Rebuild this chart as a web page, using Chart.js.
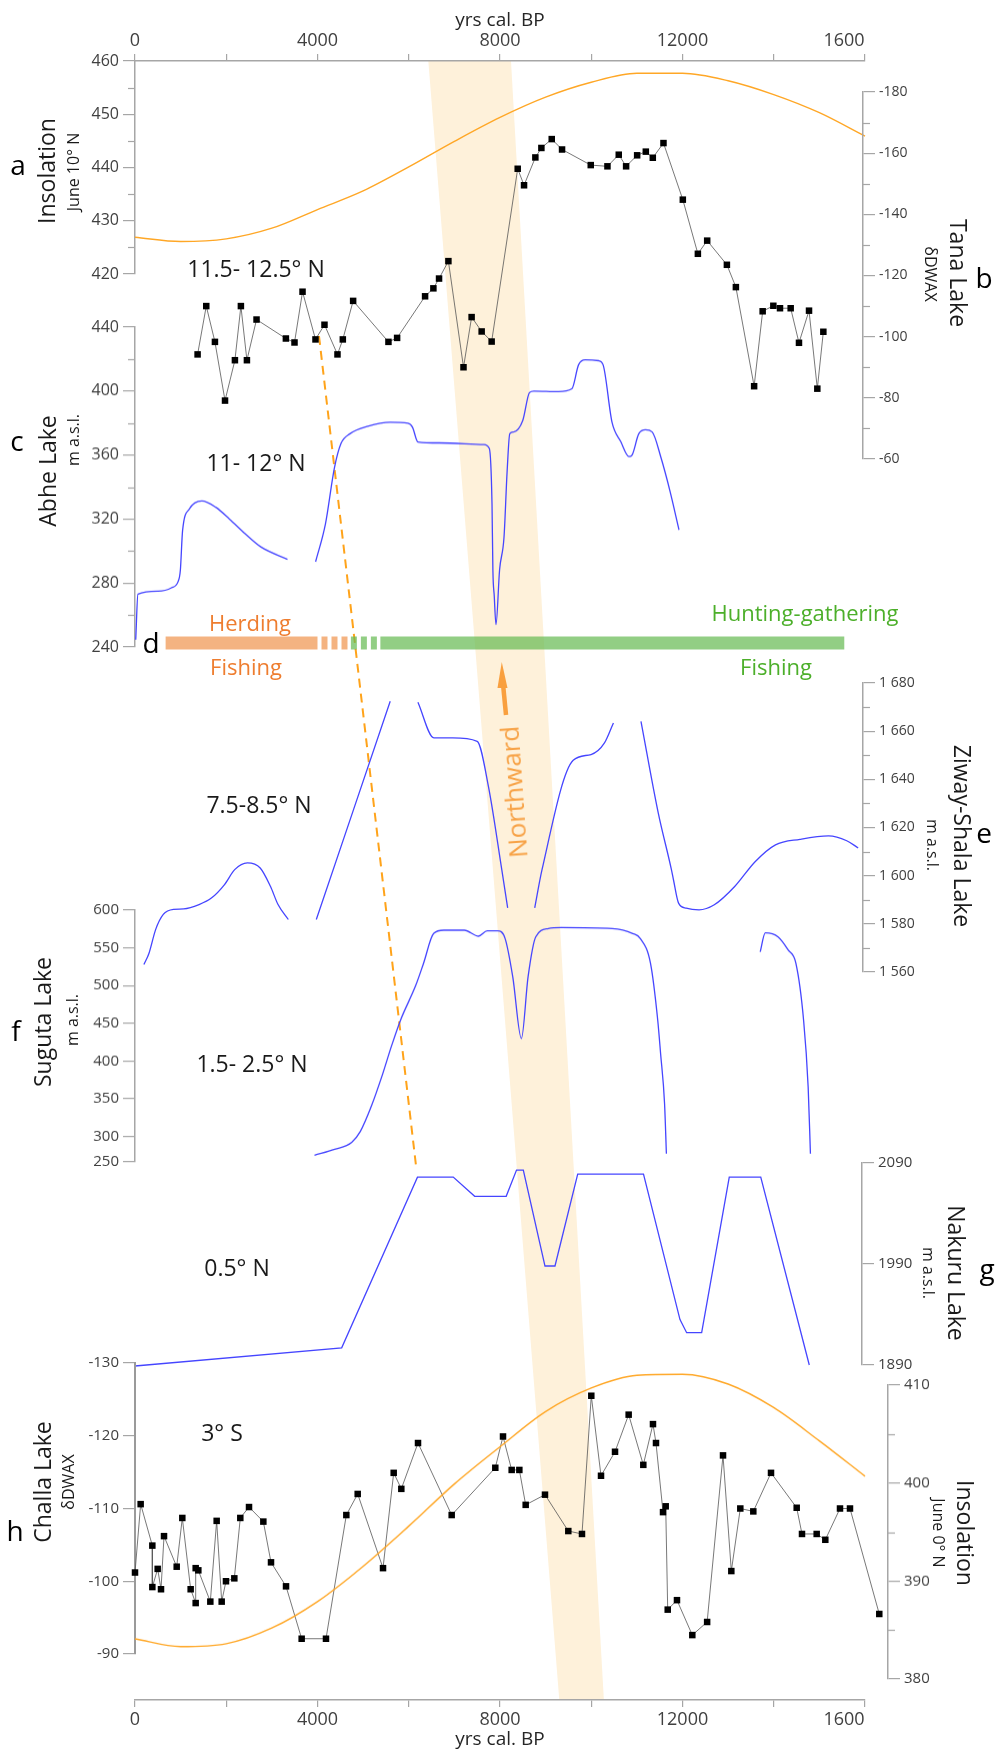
<!DOCTYPE html>
<html>
<head>
<meta charset="utf-8">
<script src="https://cdn.jsdelivr.net/npm/chart.js@4.4.1/dist/chart.umd.min.js"></script>
<style>
  body { margin: 0; background: #fff; }
  #fig { position: relative; width: 997px; height: 1764px; overflow: hidden; font-family: 'Open Sans', sans-serif; }
  #fig canvas { position: absolute; left: 0; }
  .t { position: absolute; white-space: nowrap; line-height: 1; }
</style>
</head>
<body>
<div id="fig"></div>
<script>
// ---------- data (ages in yrs cal. BP) ----------
const insolAge = [0,1000,2000,3000,4000,5000,6000,7000,8000,9000,10000,11000,12000,13000,14000,15000,16000];
const insol10N = [426.9,426.1,426.6,428.6,432.1,435.6,440.1,444.9,449.4,453.2,456.0,457.7,457.7,456.3,453.7,450.3,445.9];
const insol0N  = [384.1,383.3,383.6,385.2,387.9,391.5,395.6,399.9,403.7,407.3,409.7,411.0,411.1,410.1,407.7,404.3,400.7];

const tanaAge = [1372,1562,1752,1973,2190,2321,2453,2664,3307,3496,3672,3956,4153,4438,4555,4781,5555,5745,6358,6540,
  6664,6869,7200,7378,7598,7817,8388,8527,8775,8907,9134,9360,9989,10355,10603,10764,11006,11196,11349,11583,
  12007,12337,12541,12973,13170,13570,13757,13991,14137,14371,14553,14773,14955,15087];
const tanaDD = [-94.2,-110.0,-98.3,-79.1,-92.3,-110.0,-92.3,-105.6,-99.4,-98.1,-114.7,-99.1,-103.9,-94.2,-99.1,-111.7,-98.3,-99.6,-113.2,-115.8,
  -119.0,-124.7,-90.0,-106.4,-101.7,-98.4,-154.9,-149.5,-158.6,-161.7,-164.6,-161.2,-156.1,-155.7,-159.5,-155.7,-159.3,-160.5,-158.5,-163.3,
  -144.8,-127.1,-131.4,-123.5,-116.2,-83.8,-108.3,-110.1,-109.3,-109.3,-98.0,-108.5,-83.0,-101.6];

const abheAge = [16,64,505,799,946,994,1043,1190,1464,1777,2070,2413,2755,3342,3650,
  3958,4174,4370,4515,4712,5104,5593,5984,6082,6200,6669,7647,7766,7825,7844,7874,7912,7991,8088,8156,
  8214,8301,8498,8646,8744,9281,9575,9722,9868,10162,10260,10455,10650,10827,10895,11042,11189,11336,11532,11726,11923];
const abheLvl = [244.6,273,274.9,277,281,288,312.8,326.2,331.3,327.2,320,310.8,302.6,294.8,null,
  293.3,316.9,351.8,367.2,373.3,378,380.5,379.9,377.4,368.2,367.6,366.6,364.1,329.2,288.3,271.8,254,288.3,308.7,349.7,
  373.3,374.4,381.5,399,400,399.6,401.4,416.4,419.5,419,416.4,380.5,368.2,359,360,373.3,375.8,374.4,358,337.4,313.2];

const ziwayAge = [195,307,452,620,843,1067,1403,1681,1962,2185,2464,2744,2968,3135,3360,3700,
  3974,5594,5900,
  6201,6551,6963,7500,7746,8039,8168,8450,
  8761,8921,9604,9995,10290,10486,10800,
  11090,11467,11757,11803,11914,12081,12362,12697,13144,13591,14038,14575,15200,15600,15850];
const ziwayLvl = [1563.1,1567.8,1577.6,1583.9,1586,1586.2,1588,1590.8,1596.3,1602.5,1605.3,1603.2,1595.6,1588,1581.8,null,
  1581.8,1672.4,null,
  1672,1657.2,1657.2,1655.8,1637.1,1602.5,1586.6,null,
  1586.6,1602.5,1647.9,1650.3,1655.1,1663.4,null,
  1664.1,1626.2,1602.5,1598.2,1588.6,1586.5,1585.8,1587.9,1595.5,1605.8,1612.8,1615.1,1616.5,1614.5,1611.5];

const sugutaAge = [3934,4375,4750,4938,5188,5402,5628,5820,6155,6323,6546,6770,7217,7531,7720,7944,8112,8280,8469,8615,
  8783,9063,9342,10459,10908,11075,11299,11457,11520,11607,11647,12500,
  13703,13815,14095,14319,14486,14654,14754,14804];
const sugutaLvl = [274.8,282.7,292.1,306.5,341.2,377.9,420.8,454,500.4,529.2,569,573.4,573.4,565.4,572.5,572.5,562.3,511.4,429.7,511.4,
  564.5,575.6,576.9,575.6,569,562.3,529.2,454,409.7,343.3,277,null,
  544.6,569.8,564.5,546.9,529.2,454,365.6,277];
const sugutaTicks = [266,300,350,400,450,500,550,600];

const nakuruAge = [0,4530,6191,6975,7445,8136,8362,8511,8986,9205,9703,11145,11945,12091,12420,13025,13715,14779];
const nakuruLvl = [1889,1907,2076,2076,2057,2057,2083,2083,1988,1988,2079,2079,1935,1922,1922,2076,2076,1890];

const challaAge = [0,124,380,380,497,570,636,914,1037,1220,1330,1330,1388,1651,1790,1900,1994,2177,2308,2499,
  2813,2981,3310,3653,4186,4632,4881,5436,5670,5837,6203,6941,7897,8066,8256,8424,8563,8986,9497,9797,
  10001,10214,10521,10820,11141,11353,11419,11573,11632,11676,11879,12215,12540,12888,13070,13267,13552,13940,14503,14619,
  14941,15130,15452,15671,16313];
const challaDD = [-101.2,-110.6,-104.9,-99.2,-101.7,-98.9,-106.2,-102.0,-108.7,-98.9,-97.0,-101.8,-101.5,-97.2,-108.3,-97.2,-100.0,-100.4,-108.7,-110.2,
  -108.2,-102.6,-99.3,-92.1,-92.1,-109.1,-112.0,-101.8,-114.9,-112.7,-119.0,-109.1,-115.6,-119.9,-115.3,-115.3,-110.5,-111.9,-106.9,-106.5,
  -125.5,-114.5,-117.8,-122.9,-116.0,-121.6,-119.0,-109.5,-110.3,-96.1,-97.4,-92.6,-94.4,-117.3,-101.4,-110.0,-109.6,-114.9,-110.1,-106.5,
  -106.5,-105.7,-110.0,-110.0,-95.5];

// panel d: economy bars (start / end ages)
const herdingSolid = [671, 4000];
const herdingDash  = [4000, 4666];
const huntDash     = [4666, 5378];
const huntSolid    = [5378, 15546];

// ---------- layout ----------
const W = 997, H = 1764, X0 = 135, PX = 0.045625, AXW = 60;
const fig = document.getElementById('fig');
const GRAY = '#a6a6a6', BLUE = '#4545ff', ORANGE = '#ffa726';

Chart.defaults.font.family = "'Open Sans', sans-serif";
Chart.defaults.color = '#404040';
Chart.defaults.animation = false;
Chart.defaults.plugins.legend.display = false;
Chart.defaults.plugins.tooltip.enabled = false;

const minorTicks = {
  id: 'minor',
  afterDraw(chart, args, opts) {
    if (!opts.step) return;
    const s = chart.scales.y, ctx = chart.ctx;
    const left = s.position === 'left';
    const x0 = left ? s.right : s.left;
    ctx.save();
    ctx.strokeStyle = GRAY; ctx.lineWidth = 1.2;
    for (let v = s.min + opts.step; v < s.max; v += opts.step * 2) {
      const y = Math.round(s.getPixelForValue(v)) + 0.5;
      ctx.beginPath(); ctx.moveTo(x0, y); ctx.lineTo(x0 + (left ? -7 : 7), y); ctx.stroke();
    }
    ctx.restore();
  }
};
Chart.register(minorTicks);

function pts(xs, ys) { return xs.map((x, i) => ({x, y: ys[i]})); }

function makeCanvas(top, h) {
  const c = document.createElement('canvas');
  c.width = W; c.height = h;
  c.style.top = top + 'px'; c.style.width = W + 'px'; c.style.height = h + 'px';
  fig.appendChild(c);
  return c;
}

function xAxis(max, pos, h) {
  const show = !!pos;
  return {
    type: 'linear', min: 0, max, display: show, position: pos || 'bottom',
    afterFit: s => { if (h) s.height = h; },
    border: {display: true, color: GRAY, width: 1.5},
    grid: {drawOnChartArea: false, tickLength: 7, color: GRAY, lineWidth: 1.2},
    ticks: {stepSize: 2000, autoSkip: false, maxRotation: 0, padding: 2, font: {size: 18}, color: '#404040',
      callback: v => v % 4000 ? '' : (v === 16000 ? '1600' + ' '.repeat(9) : String(v))},
    title: {display: show, text: 'yrs cal. BP', font: {size: 19}, color: '#262626',
      padding: pos === 'top' ? {top: 9, bottom: 0} : {top: 0, bottom: 13}}
  };
}

function yAxis(y) {
  if (!y.position) return {type: 'linear', display: false, min: y.min, max: y.max, reverse: !!y.reverse};
  return {
    type: 'linear', position: y.position, min: y.min, max: y.max, reverse: !!y.reverse,
    afterFit: s => { s.width = AXW; },
    afterBuildTicks: s => { if (y.ticks) s.ticks = y.ticks.map(v => ({value: v})); },
    border: {display: true, color: y.line || GRAY, width: y.lw || 1.5},
    grid: {drawOnChartArea: false, tickLength: 12, color: GRAY, lineWidth: 1.2},
    ticks: {stepSize: y.step, autoSkip: false, padding: 4, font: {size: y.size}, color: '#404040',
      callback: y.fmt || (v => String(v))}
  };
}

// one chart per axis; top/bottom are the pixel rows of the axis max/min
function panel(o) {
  const m = 18;
  const right = o.right || 865;
  const cTop = o.xPos === 'top' ? 0 : o.top - m;
  const cBot = o.xPos === 'bottom' ? H : o.bottom + m;
  const cv = makeCanvas(cTop, cBot - cTop);
  const side = o.y.position;
  return new Chart(cv, {
    type: 'line',
    data: {datasets: o.datasets},
    options: {
      responsive: false,
      layout: {padding: {
        top: o.xPos === 'top' ? 0 : o.top - cTop,
        bottom: o.xPos === 'bottom' ? 0 : cBot - o.bottom,
        left: side === 'left' ? X0 - AXW : X0,
        right: side === 'right' ? W - right - AXW : W - right
      }},
      scales: {
        x: xAxis((right - X0) / PX, o.xPos, o.xPos === 'top' ? o.top : (o.xPos === 'bottom' ? H - o.bottom : 0)),
        y: yAxis(o.y)
      },
      plugins: {minor: {step: o.minor || 0}}
    }
  });
}

const smooth = (data, color, w) => ({data, borderColor: color, borderWidth: w || 1.3, pointRadius: 0,
  cubicInterpolationMode: 'monotone', clip: false, spanGaps: false});
const marked = data => ({data, borderColor: '#555', borderWidth: 0.8, tension: 0, clip: false,
  pointStyle: 'rect', pointRadius: 4.6, pointBackgroundColor: '#000', pointBorderWidth: 0});

// ---------- background overlay: band, connector, panel d, arrow ----------
(function () {
  const cv = makeCanvas(0, H);
  const ov = (data, extra) => Object.assign({data, pointRadius: 0, clip: false, borderWidth: 0}, extra);
  const bar = (r, color, dash, off) => ov([{x: r[0], y: 643}, {x: r[1], y: 643}],
    {borderColor: color, borderWidth: 13, borderCapStyle: 'butt', borderDash: dash || [], borderDashOffset: off || 0, order: 1});
  new Chart(cv, {
    type: 'line',
    data: {datasets: [
      ov([{x: 6429, y: 61}, {x: 8241, y: 61}, {x: 10277, y: 1700}, {x: 9300, y: 1700}],
        {fill: 'shape', backgroundColor: '#fef1da', order: 10}),
      bar(herdingSolid, 'rgba(240,150,80,0.72)'),
      bar(herdingDash, 'rgba(240,150,80,0.72)', [6, 4], 6),
      bar(huntDash, 'rgba(100,185,80,0.7)', [6, 4], 7),
      bar(huntSolid, 'rgba(100,185,80,0.7)'),
      ov([{x: 4033, y: 336}, {x: 6170, y: 1170}], {borderColor: '#ffa31a', borderWidth: 2, borderDash: [9, 6], order: 2}),
      ov([{x: 8132, y: 715}, {x: 8066, y: 684}], {borderColor: '#f9a03f', borderWidth: 4.5, borderCapStyle: 'butt', order: 2}),
      ov([{x: 8039, y: 662}, {x: 8164, y: 688}, {x: 7945, y: 688}], {fill: 'shape', backgroundColor: '#f9a03f', order: 2})
    ]},
    options: {
      responsive: false,
      layout: {padding: {left: X0, right: W - 865, top: 0, bottom: 0}},
      scales: {
        x: {type: 'linear', min: 0, max: 16000, display: false},
        y: {type: 'linear', min: 0, max: H, reverse: true, display: false}
      }
    }
  });
})();

// ---------- panels ----------
panel({top: 61, bottom: 274, xPos: 'top', minor: 5,
  y: {position: 'left', min: 420, max: 460, step: 10, size: 16},
  datasets: [smooth(pts(insolAge, insol10N), ORANGE, 1.4)]});

panel({top: 91.7, bottom: 458.7, right: 863, minor: 10,
  y: {position: 'right', min: -180, max: -60, step: 20, reverse: true, size: 14},
  datasets: [marked(pts(tanaAge, tanaDD))]});

panel({top: 327.3, bottom: 647.3, minor: 20,
  y: {position: 'left', min: 240, max: 440, step: 40, size: 16},
  datasets: [smooth(pts(abheAge, abheLvl), BLUE)]});

panel({top: 683.3, bottom: 972.4, right: 863, minor: 10,
  y: {position: 'right', min: 1560, max: 1680, step: 20, size: 14,
      fmt: v => String(v).replace(/^(\d)(\d{3})$/, '$1 $2')},
  datasets: [smooth(pts(ziwayAge, ziwayLvl), BLUE)]});

panel({top: 910, bottom: 1161.6,
  y: {position: 'left', min: 266, max: 600, ticks: sugutaTicks, size: 15,
      fmt: v => v === 266 ? '250' : String(v)},
  datasets: [smooth(pts(sugutaAge, sugutaLvl), BLUE)]});

panel({top: 1163, bottom: 1365, right: 862,
  y: {position: 'right', min: 1890, max: 2090, step: 100, size: 15},
  datasets: [{data: pts(nakuruAge, nakuruLvl), borderColor: BLUE, borderWidth: 1.3, pointRadius: 0, tension: 0, clip: false}]});

// Challa axis (-130 .. -90) and, on the same value scale, a larger hidden area so every sample keeps its marker
const CH_TOP = 1363, CH_BOT = 1654, CH_PX = (CH_BOT - CH_TOP) / 40;
panel({top: CH_TOP, bottom: CH_BOT,
  y: {position: 'left', min: -130, max: -90, step: 10, reverse: true, size: 15, line: '#9a9a9a', lw: 2},
  datasets: []});
panel({top: CH_TOP, bottom: 1745, right: 905,
  y: {min: -130, max: -130 + (1745 - CH_TOP) / CH_PX, reverse: true},
  datasets: [marked(pts(challaAge, challaDD))]});

panel({top: 1385, bottom: 1678.5, right: 888, minor: 5,
  y: {position: 'right', min: 380, max: 410, step: 10, size: 15},
  datasets: [smooth(pts(insolAge, insol0N), ORANGE, 1.4)]});

panel({top: 1695, bottom: 1700, xPos: 'bottom',
  y: {min: 0, max: 1},
  datasets: []});

// ---------- text ----------
function txt(s, x, y, size, color, rot) {
  const d = document.createElement('div');
  d.className = 't';
  d.textContent = s;
  d.style.left = x + 'px'; d.style.top = y + 'px';
  d.style.fontSize = size + 'px';
  d.style.color = color || '#1a1a1a';
  d.style.transform = 'translate(-50%,-50%) rotate(' + (rot || 0) + 'deg)';
  fig.appendChild(d);
}
const GREEN_T = '#4caf2a', ORANGE_T = '#ee7d2f', TT = 23, ST = 16;

txt('a', 18, 164, 28, '#000');
txt('Insolation', 46, 171, TT, null, -90);
txt('June 10° N', 73, 172, ST, null, -90);
txt('11.5- 12.5° N', 256, 268, 23);

txt('b', 984, 277, 28, '#000');
txt('Tana Lake', 958, 273, TT, null, 90);
txt('δDWAX', 931, 274, ST, null, 90);

txt('c', 17, 440, 28, '#000');
txt('Abhe Lake', 47, 471, TT, null, -90);
txt('m a.s.l.', 73, 440, ST, null, -90);
txt('11- 12° N', 256, 462, 23);

txt('d', 151, 642, 28, '#000');
txt('Herding', 250, 622, 22, ORANGE_T);
txt('Fishing', 246, 666, 22, ORANGE_T);
txt('Hunting-gathering', 805, 612, 22, GREEN_T);
txt('Fishing', 776, 666, 22, GREEN_T);
txt('Northward', 513, 792, 26, '#f7a246', -94);

txt('7.5-8.5° N', 259, 804, 23);
txt('e', 984, 832, 28, '#000');
txt('Ziway-Shala Lake', 962, 836, TT, null, 90);
txt('m a.s.l.', 933, 845, ST, null, 90);

txt('f', 16, 1030, 28, '#000');
txt('Suguta Lake', 42, 1022, TT, null, -90);
txt('m a.s.l.', 72, 1020, ST, null, -90);
txt('1.5- 2.5° N', 252, 1063, 23);

txt('g', 987, 1268, 28, '#000');
txt('Nakuru Lake', 956, 1273, TT, null, 90);
txt('m a.s.l.', 929, 1273, ST, null, 90);
txt('0.5° N', 237, 1267, 23);

txt('3° S', 222, 1432, 23);
txt('h', 15, 1530, 28, '#000');
txt('Challa Lake', 42, 1482, TT, null, -90);
txt('δDWAX', 68, 1482, ST, null, -90);
txt('Insolation', 965, 1533, TT, null, 90);
txt('June 0° N', 939, 1533, ST, null, 90);
</script>
</body>
</html>
